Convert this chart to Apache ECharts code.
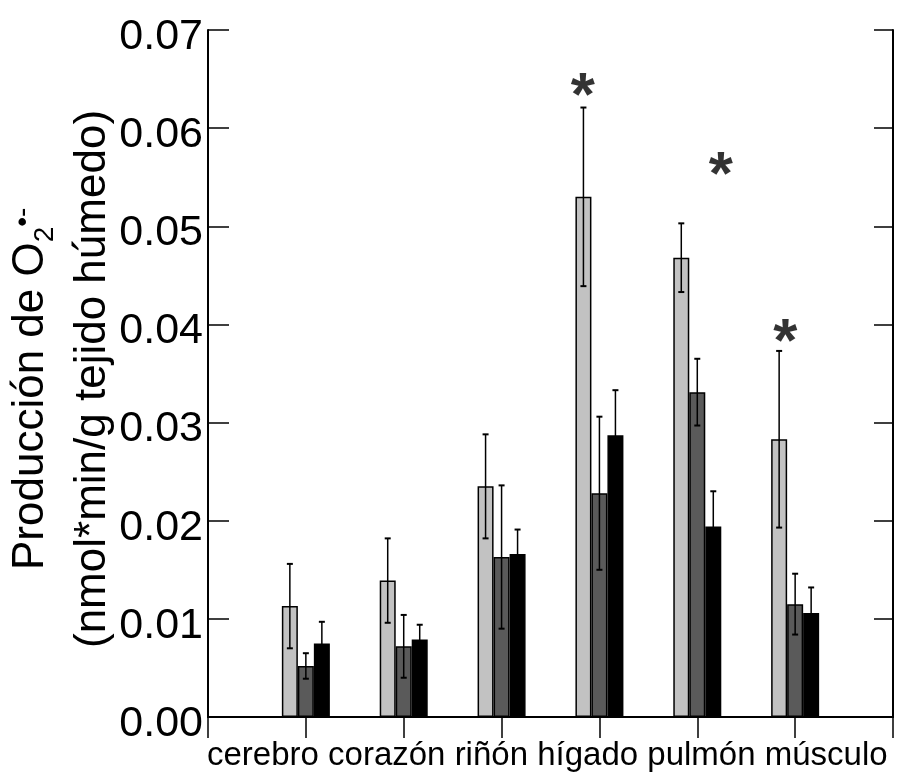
<!DOCTYPE html>
<html><head><meta charset="utf-8">
<script src="https://cdn.jsdelivr.net/npm/echarts@6/dist/echarts.min.js"></script>
<style>html,body{margin:0;padding:0;background:#fff}#c{width:915px;height:773px}</style>
</head><body><div id="c"></div>
<script>
// ---- data ----
const categories = ['cerebro', 'corazón', 'riñón', 'hígado', 'pulmón', 'músculo'];
const seriesA = [0.0113, 0.0139, 0.0235, 0.0530, 0.0468, 0.0283];
const errA    = [0.0043, 0.0043, 0.0053, 0.0091, 0.0035, 0.0090];
const seriesB = [0.0052, 0.0072, 0.0163, 0.0228, 0.0331, 0.0115];
const errB    = [0.0013, 0.0032, 0.0073, 0.0078, 0.0034, 0.0031];
const seriesC = [0.0075, 0.0079, 0.0166, 0.0287, 0.0194, 0.0106];
const errC    = [0.0022, 0.0015, 0.0025, 0.0046, 0.0036, 0.0026];
const yMin = 0, yMax = 0.07, yStep = 0.01;
// significance marks: [x position on 0..7 scale, y value]
const asterisks = [[3.83, 0.0645], [5.24, 0.0565], [5.90, 0.0394]];
const yTitle1 = 'Producción de O', yTitleSub = '2', yTitleSup = '•-';
const yTitle2 = '(nmol*min/g tejido húmedo)';

// ---- chart ----
const FF = "'Liberation Sans', Arial, Helvetica, sans-serif";
const paddedCats = [''].concat(categories, ['']);
const pad = arr => [null].concat(arr, [null]);

function measure(text, size) {
  const ctx = document.createElement('canvas').getContext('2d');
  ctx.font = size + "px 'Liberation Sans', Arial, sans-serif";
  return ctx.measureText(text).width;
}

function errSeries(vals, errs, offset) {
  return {
    type: 'custom', xAxisIndex: 0, yAxisIndex: 0, z: 5, silent: true,
    data: vals.map((v, i) => [i + 1, v - errs[i], v + errs[i]]),
    encode: { x: 0, y: [1, 2] },
    renderItem: function (params, api) {
      const lo = api.coord([api.value(0), api.value(1)]);
      const hi = api.coord([api.value(0), api.value(2)]);
      const x = lo[0] + offset, cw = 3;
      const st = { stroke: '#000', lineWidth: 1.5 };
      return { type: 'group', children: [
        { type: 'line', shape: { x1: x, y1: lo[1], x2: x, y2: hi[1] }, style: st },
        { type: 'line', shape: { x1: x - cw, y1: lo[1], x2: x + cw, y2: lo[1] }, style: { stroke: '#000', lineWidth: 2 } },
        { type: 'line', shape: { x1: x - cw, y1: hi[1], x2: x + cw, y2: hi[1] }, style: { stroke: '#000', lineWidth: 2 } }
      ]};
    }
  };
}

const chart = echarts.init(document.getElementById('c'), null, { renderer: 'canvas' });
const BW = 16;
const barStyle = c => ({ color: c, borderColor: '#000', borderWidth: 1.5 });

const w1 = measure(yTitle1, 44);
const w2 = measure(yTitleSub, 28);

chart.setOption({
  animation: false,
  backgroundColor: '#fff',
  grid: { left: 208, right: 22, top: 30, bottom: 56 },
  xAxis: [
    { type: 'category', data: paddedCats, boundaryGap: false, position: 'bottom',
      axisLine: { lineStyle: { color: '#000', width: 2 } },
      axisTick: { show: false },
      axisLabel: { show: false }, splitLine: { show: false } },
    { type: 'value', min: 0, max: 7, interval: 1, position: 'top',
      axisLine: { show: true, lineStyle: { color: '#000', width: 2 } },
      axisTick: { show: true, inside: true, length: 21, lineStyle: { color: '#000', width: 1.5 } },
      axisLabel: { show: false }, splitLine: { show: false } }
  ],
  yAxis: [
    { type: 'value', min: yMin, max: yMax, interval: yStep, position: 'left',
      axisLine: { show: true, lineStyle: { color: '#000', width: 2 } },
      axisTick: { show: true, inside: true, length: 21, lineStyle: { color: '#000', width: 1.5 } },
      axisLabel: { show: true, color: '#000', fontFamily: FF, fontSize: 43, margin: 5,
        verticalAlign: 'top', lineHeight: 14,
        formatter: v => v.toFixed(2) },
      splitLine: { show: false } },
    { type: 'value', min: yMin, max: yMax, interval: yStep, position: 'right',
      axisLine: { show: true, lineStyle: { color: '#000', width: 2 } },
      axisTick: { show: true, inside: true, length: 19, lineStyle: { color: '#000', width: 1.5 } },
      axisLabel: { show: false }, splitLine: { show: false } }
  ],
  series: [
    { type: 'bar', data: pad(seriesA), barWidth: BW, barGap: '0%', itemStyle: barStyle('#c2c2c2'), z: 2 },
    { type: 'bar', data: pad(seriesB), barWidth: BW, barGap: '0%', itemStyle: barStyle('#5a5a5a'), z: 2 },
    { type: 'bar', data: pad(seriesC), barWidth: BW, barGap: '0%', itemStyle: barStyle('#000000'), z: 2 },
    errSeries(seriesA, errA, -BW),
    errSeries(seriesB, errB, 0),
    errSeries(seriesC, errC, BW),
    { type: 'scatter', xAxisIndex: 1, yAxisIndex: 0, data: asterisks, symbolSize: 0, z: 6,
      label: { show: true, position: 'inside', formatter: '*', color: '#000',
        fontFamily: FF, fontSize: 62, fontWeight: 'bold', offset: [0, 14] } }
  ],
  graphic: [
    { type: 'text', left: 207, top: 739, z: 10,
      style: { text: categories.join(' '), font: '33px ' + FF, fill: '#000' } },
    { type: 'group', x: 0, y: 570, rotation: Math.PI / 2, z: 10, children: [
      { type: 'text', x: 0, y: 31, style: { text: yTitle1, font: '44px ' + FF, fill: '#000', align: 'left', verticalAlign: 'middle' } },
      { type: 'text', x: w1, y: 45, style: { text: yTitleSub, font: '28px ' + FF, fill: '#000', align: 'left', verticalAlign: 'middle' } },
      { type: 'text', x: w1 + w2, y: 23, style: { text: yTitleSup, font: '28px ' + FF, fill: '#000', align: 'left', verticalAlign: 'middle' } },
      { type: 'text', x: -78, y: 93, style: { text: yTitle2, font: '44px ' + FF, fill: '#000', align: 'left', verticalAlign: 'middle' } }
    ]}
  ]
});
</script>
</body></html>
